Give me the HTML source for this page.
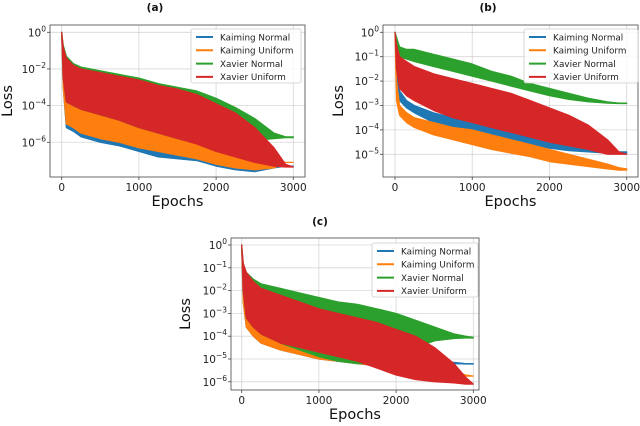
<!DOCTYPE html>
<html><head><meta charset="utf-8">
<style>
html,body{margin:0;padding:0;background:#fff;}
svg{display:block;font-family:"DejaVu Sans","Liberation Sans",sans-serif;}
</style></head>
<body>
<svg id="fig" width="640" height="426" viewBox="0 0 640 426" xmlns="http://www.w3.org/2000/svg"></svg>
<script>
const epochs = [0,20,60,150,250,500,750,1000,1250,1500,1750,2000,2250,2500,2750,2900,3000];
const seriesNames = ["Kaiming Normal","Kaiming Uniform","Xavier Normal","Xavier Uniform"];
const xTicks = [0,1000,2000,3000];
// panel (a) log10 loss envelopes
const aBlueHi   = [0,-1,-2.5,-3,-3.2,-3.5,-3.8,-4.2,-4.5,-4.8,-5.1,-5.4,-5.8,-6.3,-6.9,-7.3,-7.3];
const aBlueLo   = [0,-3,-5.2,-5.4,-5.7,-6.0,-6.2,-6.5,-6.8,-6.9,-7.0,-7.3,-7.5,-7.6,-7.4,-7.3,-7.3];
const aOrangeHi = [0,-1,-2.5,-3,-3.2,-3.5,-3.8,-4.2,-4.5,-4.8,-5.1,-5.4,-5.8,-6.3,-6.9,-7.1,-7.1];
const aOrangeLo = [0,-3,-5.0,-5.2,-5.5,-5.8,-6.0,-6.3,-6.5,-6.7,-6.9,-7.2,-7.4,-7.5,-7.4,-7.1,-7.1];
const aGreenHi  = [0,-0.7,-1.3,-1.7,-1.9,-2.1,-2.3,-2.5,-2.8,-3.0,-3.2,-3.6,-4.1,-4.7,-5.5,-5.7,-5.7];
const aGreenLo  = [0,-2.5,-3.8,-4.0,-4.2,-4.5,-4.8,-5.2,-5.5,-5.8,-6.0,-6.1,-6.1,-5.9,-5.8,-5.75,-5.75];
const aRedHi    = [0,-0.8,-1.4,-1.8,-2.0,-2.2,-2.4,-2.6,-2.9,-3.1,-3.4,-3.9,-4.4,-5.2,-6.3,-7.2,-7.35];
const aRedLo    = [0,-2.5,-3.8,-4.0,-4.2,-4.5,-4.8,-5.2,-5.5,-5.8,-6.1,-6.5,-6.8,-7.1,-7.3,-7.35,-7.35];
// panel (b)
const bBlueHi   = [0,-1.2,-2.4,-2.8,-3.0,-3.3,-3.5,-3.6,-3.8,-4.0,-4.2,-4.4,-4.6,-4.8,-4.9,-4.9,-4.9];
const bBlueLo   = [0,-2.2,-2.8,-3.1,-3.3,-3.7,-3.9,-4.1,-4.3,-4.45,-4.6,-4.75,-4.85,-4.9,-4.95,-4.95,-4.95];
const bOrangeHi = [0,-2,-3.0,-3.3,-3.5,-3.7,-3.9,-4.0,-4.2,-4.4,-4.6,-4.8,-5.0,-5.2,-5.4,-5.55,-5.6];
const bOrangeLo = [0,-2.8,-3.4,-3.7,-3.9,-4.2,-4.4,-4.6,-4.8,-4.95,-5.1,-5.3,-5.4,-5.5,-5.6,-5.65,-5.65];
const bGreenHi  = [0,-0.2,-0.6,-0.7,-0.7,-0.9,-1.1,-1.3,-1.6,-1.8,-2.1,-2.3,-2.5,-2.7,-2.85,-2.9,-2.9];
const bGreenLo  = [0,-0.6,-1.0,-1.1,-1.2,-1.4,-1.6,-1.8,-2.0,-2.2,-2.4,-2.6,-2.75,-2.85,-2.9,-2.92,-2.92];
const bRedHi    = [0,-0.5,-1.0,-1.2,-1.4,-1.7,-1.9,-2.1,-2.3,-2.5,-2.8,-3.1,-3.4,-3.8,-4.4,-4.9,-5.0];
const bRedLo    = [0,-1.5,-2.3,-2.6,-2.8,-3.2,-3.5,-3.7,-3.9,-4.1,-4.3,-4.5,-4.65,-4.8,-5.0,-5.0,-5.0];
// panel (c)
const cBlueHi   = [0,-1.5,-2.8,-3.2,-3.4,-3.7,-3.9,-4.1,-4.3,-4.5,-4.7,-4.9,-5.0,-5.1,-5.15,-5.2,-5.2];
const cBlueLo   = [0,-2.5,-3.6,-4.0,-4.3,-4.6,-4.8,-5.0,-5.1,-5.2,-5.3,-5.3,-5.3,-5.25,-5.2,-5.22,-5.22];
const cOrangeHi = [0,-1.5,-2.8,-3.2,-3.4,-3.7,-3.9,-4.1,-4.3,-4.5,-4.7,-4.9,-5.1,-5.3,-5.5,-5.7,-5.75];
const cOrangeLo = [0,-2.5,-3.6,-4.0,-4.3,-4.6,-4.8,-5.0,-5.1,-5.2,-5.3,-5.4,-5.5,-5.6,-5.7,-5.75,-5.75];
const cGreenHi  = [0,-0.8,-1.2,-1.5,-1.7,-1.9,-2.1,-2.3,-2.5,-2.6,-2.8,-3.0,-3.3,-3.6,-3.9,-4.0,-4.05];
const cGreenLo  = [0,-2,-3.2,-3.6,-3.9,-4.3,-4.6,-4.9,-5.1,-5.2,-5.2,-5.0,-4.5,-4.2,-4.1,-4.08,-4.08];
const cRedHi    = [0,-0.8,-1.2,-1.6,-1.9,-2.2,-2.5,-2.8,-3.0,-3.2,-3.4,-3.7,-4.0,-4.5,-5.2,-5.8,-6.1];
const cRedLo    = [0,-2,-3.2,-3.6,-3.9,-4.3,-4.5,-4.7,-4.9,-5.1,-5.4,-5.7,-5.9,-6.0,-6.05,-6.1,-6.1];

const colors = ["#1f77b4","#ff7f0e","#2ca02c","#d62728"];
const NS = "http://www.w3.org/2000/svg";
const svg = document.getElementById("fig");
function mk(tag, attrs, parent){const e=document.createElementNS(NS,tag);for(const k in attrs)e.setAttribute(k,attrs[k]);(parent||svg).appendChild(e);return e;}

function panel(p){
  const g = mk("g",{});
  
  
  const xs = v => p.x0 + (v/3000)*(p.x3000-p.x0);
  const ys = v => p.y0 - v*p.dec;
  xTicks.forEach(t=>{const l=mk("line",{x1:xs(t),x2:xs(t),y1:p.top,y2:p.bottom,stroke:"#b0b0b0","stroke-width":0.8,"stroke-opacity":0.5},g);
    });
  p.yTicks.forEach(t=>{const l=mk("line",{x1:p.left,x2:p.right,y1:ys(t),y2:ys(t),stroke:"#b0b0b0","stroke-width":0.8,"stroke-opacity":0.5},g);
    });
  const clip = mk("clipPath",{id:"clip"+p.id},g);
  mk("rect",{x:p.left,y:p.top,width:p.right-p.left,height:p.bottom-p.top},clip);
  const sg = mk("g",{"clip-path":"url(#clip"+p.id+")"},g);
  p.series.forEach((s,i)=>{
    let d="";
    epochs.forEach((e,k)=>{d+=(k?"L":"M")+xs(e).toFixed(1)+","+ys(s[0][k]).toFixed(1);});
    for(let k=epochs.length-1;k>=0;k--) d+="L"+xs(epochs[k]).toFixed(1)+","+ys(s[1][k]).toFixed(1);
    d+="Z";
    const path=mk("path",{d:d,fill:colors[i],stroke:colors[i],"stroke-width":1.2,"stroke-linejoin":"round"},sg);
    
    
  });
  const fr=mk("rect",{x:p.left,y:p.top,width:p.right-p.left,height:p.bottom-p.top,fill:"none",stroke:"#444","stroke-width":0.8},g);
  
  xTicks.forEach(t=>{
    mk("line",{x1:xs(t),x2:xs(t),y1:p.bottom,y2:p.bottom+3,stroke:"#444","stroke-width":0.8},g);
    const tx=mk("text",{x:xs(t),y:p.bottom+14,"font-size":10.5,"text-anchor":"middle",fill:"#222"},g);
    tx.textContent=t;
  });
  p.yTicks.forEach(t=>{
    mk("line",{x1:p.left-3,x2:p.left,y1:ys(t),y2:ys(t),stroke:"#444","stroke-width":0.8},g);
    const tx=mk("text",{x:p.left-4,y:ys(t)+4,"font-size":10.5,"text-anchor":"end",fill:"#222"},g);
    const base=mk("tspan",{},tx);base.textContent="10";
    const sup=mk("tspan",{dy:-5,"font-size":7.5},tx);
    sup.textContent=t===0?"0":"\u2212"+(-t);
    
  });
  const xt=mk("text",{x:(p.left+p.right)/2,y:p.bottom+29,"font-size":14.5,"text-anchor":"middle",fill:"#111"},g);
  xt.textContent="Epochs";
  const yt=mk("text",{x:0,y:0,"font-size":14.5,"text-anchor":"middle",fill:"#111",transform:"translate("+p.ylabX+","+((p.top+p.bottom)/2)+") rotate(-90)"},g);
  yt.textContent="Loss";
  const ti=mk("text",{x:p.titleX,y:p.titleY,"font-size":10.5,"font-weight":"bold","text-anchor":"middle",fill:"#111"},g);
  ti.textContent="("+p.id+")";
  const lg=mk("g",{},g);
  mk("rect",{x:p.lx,y:p.ly,width:p.lw,height:54,fill:"#fff","fill-opacity":0.85,stroke:"#ccc","stroke-width":0.8,rx:2},lg);
  seriesNames.forEach((n,i)=>{
    const yy=p.ly+8+i*13.3;
    const ent=mk("g",{},lg);
    mk("line",{x1:p.lx+5,x2:p.lx+22,y1:yy,y2:yy,stroke:colors[i],"stroke-width":2},ent);
    const t=mk("text",{x:p.lx+29,y:yy+3.3,"font-size":8.8,fill:"#222"},ent);t.textContent=n;
  });
}

panel({id:"a",left:50,right:305,top:25,bottom:177,x0:61.7,x3000:293.3,y0:32.3,dec:18.33,yTicks:[0,-2,-4,-6],
  ylabX:12,titleX:155,titleY:11,lx:191,ly:29,lw:110,
  series:[[aBlueHi,aBlueLo],[aOrangeHi,aOrangeLo],[aGreenHi,aGreenLo],[aRedHi,aRedLo]]});
panel({id:"b",left:383,right:638,top:25,bottom:177,x0:395,x3000:626.7,y0:32.3,dec:24.4,yTicks:[0,-1,-2,-3,-4,-5],
  ylabX:343,titleX:488,titleY:11,lx:524,ly:29,lw:114,
  series:[[bBlueHi,bBlueLo],[bOrangeHi,bOrangeLo],[bGreenHi,bGreenLo],[bRedHi,bRedLo]]});
panel({id:"c",left:231,right:479,top:238,bottom:390,x0:241.7,x3000:473.3,y0:245,dec:22.8,yTicks:[0,-1,-2,-3,-4,-5,-6],
  ylabX:190,titleX:320,titleY:225,lx:372,ly:243,lw:106,
  series:[[cBlueHi,cBlueLo],[cOrangeHi,cOrangeLo],[cGreenHi,cGreenLo],[cRedHi,cRedLo]]});
</script>
</body></html>
